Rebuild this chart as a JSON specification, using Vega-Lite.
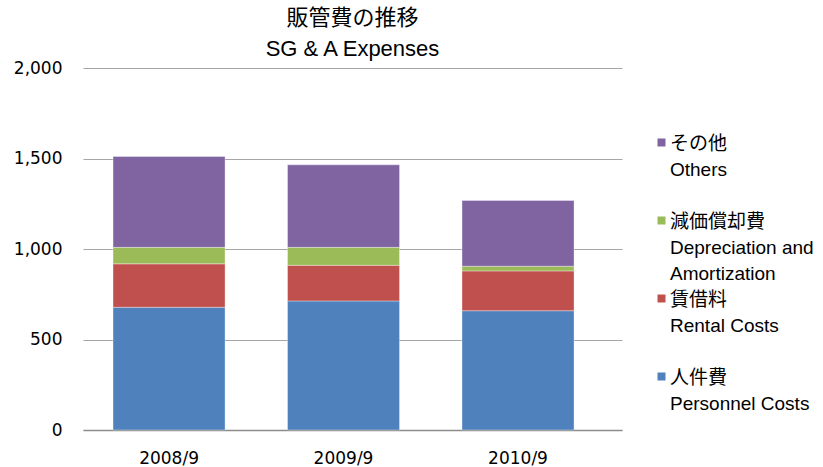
{
  "$schema": "https://vega.github.io/schema/vega-lite/v6.json",
  "width": 539,
  "height": 362,
  "autosize": {"type": "none"},
  "padding": {"left": 83, "top": 68, "right": 201, "bottom": 37},
  "background": "white",
  "title": {
    "text": ["販管費の推移", "SG & A Expenses"],
    "font": "Liberation Sans, Noto Sans CJK JP",
    "fontSize": 22,
    "fontWeight": "normal",
    "color": "#000000",
    "lineHeight": 31,
    "offset": -2,
    "anchor": "middle"
  },
  "data": {
    "values": [
      {"period": "2008/9", "series": "人件費|Personnel Costs", "seriesOrder": 1, "value": 678},
      {"period": "2008/9", "series": "賃借料|Rental Costs", "seriesOrder": 2, "value": 240},
      {"period": "2008/9", "series": "減価償却費|Depreciation and|Amortization", "seriesOrder": 3, "value": 91},
      {"period": "2008/9", "series": "その他|Others", "seriesOrder": 4, "value": 502},
      {"period": "2009/9", "series": "人件費|Personnel Costs", "seriesOrder": 1, "value": 713},
      {"period": "2009/9", "series": "賃借料|Rental Costs", "seriesOrder": 2, "value": 197},
      {"period": "2009/9", "series": "減価償却費|Depreciation and|Amortization", "seriesOrder": 3, "value": 99},
      {"period": "2009/9", "series": "その他|Others", "seriesOrder": 4, "value": 456},
      {"period": "2010/9", "series": "人件費|Personnel Costs", "seriesOrder": 1, "value": 659},
      {"period": "2010/9", "series": "賃借料|Rental Costs", "seriesOrder": 2, "value": 220},
      {"period": "2010/9", "series": "減価償却費|Depreciation and|Amortization", "seriesOrder": 3, "value": 26},
      {"period": "2010/9", "series": "その他|Others", "seriesOrder": 4, "value": 363}
    ]
  },
  "mark": {"type": "bar", "stroke": "#ffffff", "strokeOpacity": 0.35, "strokeWidth": 1},
  "encoding": {
    "x": {
      "field": "period",
      "type": "nominal",
      "scale": {"paddingInner": 0.358, "paddingOuter": 0.2235, "align": 0.385},
      "axis": {
        "title": null,
        "labelAngle": 0,
        "labelFont": "DejaVu Sans",
        "labelFontSize": 17,
        "labelColor": "#000000",
        "labelPadding": 28,
        "ticks": false,
        "domainColor": "#8c8c8c",
        "domainWidth": 1.5
      }
    },
    "y": {
      "field": "value",
      "type": "quantitative",
      "stack": "zero",
      "scale": {"domain": [0, 2000], "nice": false},
      "axis": {
        "title": null,
        "values": [0, 500, 1000, 1500, 2000],
        "format": ",d",
        "labelFont": "DejaVu Sans",
        "labelFontSize": 17,
        "labelColor": "#000000",
        "labelPadding": 21,
        "labelOffset": 8,
        "ticks": false,
        "domain": false,
        "gridColor": "#a6a6a6",
        "gridWidth": 1.2
      }
    },
    "color": {
      "field": "series",
      "type": "nominal",
      "scale": {
        "domain": ["人件費|Personnel Costs", "賃借料|Rental Costs", "減価償却費|Depreciation and|Amortization", "その他|Others"],
        "range": ["#4F81BD", "#C0504D", "#9BBB59", "#8064A2"]
      },
      "legend": {
        "title": null,
        "orient": "none",
        "legendX": 569,
        "legendY": 65,
        "values": ["その他|Others", "減価償却費|Depreciation and|Amortization", "賃借料|Rental Costs", "人件費|Personnel Costs"],
        "labelExpr": "split(datum.label, '|')",
        "labelFont": "Liberation Sans, Noto Sans CJK JP",
        "labelFontSize": 19,
        "labelColor": "#000000",
        "labelLimit": 300,
        "labelBaseline": "top",
        "labelOffset": -1,
        "symbolType": "square",
        "symbolSize": 64,
        "symbolStrokeWidth": 0,
        "gridAlign": "all",
        "rowPadding": 5
      }
    },
    "order": {"field": "seriesOrder", "type": "quantitative", "sort": "ascending"}
  },
  "config": {
    "view": {"stroke": null},
    "style": {"guide-label": {"lineHeight": 26, "dy": -8}}
  }
}
